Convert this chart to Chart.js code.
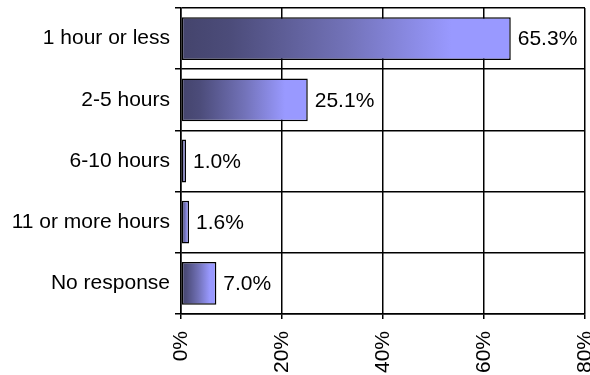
<!DOCTYPE html>
<html>
<head>
<meta charset="utf-8">
<script src="https://cdn.jsdelivr.net/npm/chart.js@4/dist/chart.umd.min.js"></script>
<style>
  html, body { margin: 0; padding: 0; background: #fff; }
  #wrap { width: 590px; height: 375px; position: relative; }
</style>
</head>
<body>
<div id="wrap"><canvas id="c" width="590" height="375"></canvas></div>
<script>
// Hours spent per week, share of respondents (%)
const categories = ['1 hour or less', '2-5 hours', '6-10 hours', '11 or more hours', 'No response'];
const shares = [65.3, 25.1, 1.0, 1.6, 7.0];
const axisTicks = [0, 20, 40, 60, 80];

const FONT = { family: '"Liberation Sans", Arial, sans-serif', size: 21 };

// Horizontal dark-to-light fill running along each bar
function barFill(ctx) {
  const chart = ctx.chart;
  const xs = chart.scales && chart.scales.x;
  if (!chart.chartArea || !xs || ctx.dataIndex === undefined) return '#9999ff';
  const x0 = xs.getPixelForValue(0);
  const x1 = xs.getPixelForValue(shares[ctx.dataIndex]);
  if (!isFinite(x0) || !isFinite(x1) || x1 - x0 < 0.5) return '#9999ff';
  const g = chart.ctx.createLinearGradient(x0, 0, x1, 0);
  g.addColorStop(0, '#44446c');
  g.addColorStop(0.15, '#4c4c7a');
  g.addColorStop(0.5, '#7272b8');
  g.addColorStop(0.82, '#9999ff');
  g.addColorStop(1, '#9999ff');
  return g;
}

// Value text just past the end of each bar
const valueLabels = {
  id: 'valueLabels',
  afterDatasetsDraw(chart) {
    const ctx = chart.ctx;
    const meta = chart.getDatasetMeta(0);
    ctx.save();
    ctx.font = FONT.size + 'px ' + FONT.family;
    ctx.fillStyle = '#000';
    ctx.textAlign = 'left';
    ctx.textBaseline = 'middle';
    meta.data.forEach((bar, i) => {
      ctx.fillText(shares[i].toFixed(1) + '%', bar.x + 7, bar.y + 1);
    });
    ctx.restore();
  }
};

new Chart(document.getElementById('c'), {
  type: 'bar',
  data: {
    labels: categories,
    datasets: [{
      data: shares,
      backgroundColor: barFill,
      borderColor: '#000',
      borderWidth: 1.5,
      borderSkipped: false,
      categoryPercentage: 1,
      barPercentage: 0.7
    }]
  },
  options: {
    indexAxis: 'y',
    responsive: false,
    animation: false,
    devicePixelRatio: 1,
    layout: { padding: { top: 8, right: 5, left: 0, bottom: 0 } },
    plugins: {
      legend: { display: false },
      tooltip: { enabled: false }
    },
    scales: {
      x: {
        min: 0,
        max: 80,
        afterBuildTicks(scale) {
          scale.ticks = axisTicks.map(v => ({ value: v }));
        },
        afterFit(scale) {
          scale.height = 61;
          scale.paddingLeft = 0;
          scale.paddingRight = 0;
        },
        grid: {
          color: '#000',
          lineWidth: 1.5,
          tickLength: 5,
          drawOnChartArea: true
        },
        border: { color: '#000', width: 1.5 },
        ticks: {
          font: FONT,
          color: '#000',
          padding: 12,
          maxRotation: 90,
          minRotation: 90,
          autoSkip: false,
          callback: v => v + '%'
        }
      },
      y: {
        offset: true,
        afterFit(scale) {
          scale.width = 181;
          scale.paddingTop = 0;
          scale.paddingBottom = 0;
        },
        grid: {
          offset: true,
          color: '#000',
          lineWidth: 1.5,
          tickLength: 6,
          drawOnChartArea: true
        },
        border: { color: '#000', width: 1.5 },
        ticks: {
          font: FONT,
          color: '#000',
          padding: 5,
          autoSkip: false
        }
      }
    }
  },
  plugins: [valueLabels]
});
</script>
</body>
</html>
